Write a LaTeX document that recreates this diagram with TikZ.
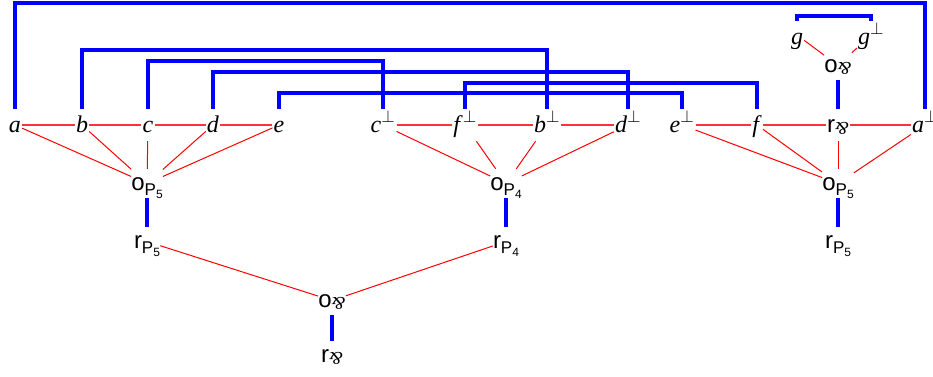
\documentclass[tikz,border=0pt]{standalone}
\usepackage{fontspec}
\setmainfont{Liberation Serif}
\setsansfont{Liberation Sans}
\usepackage{graphicx}
\usepackage{tikz}

\newcommand{\subP}[1]{\raisebox{-5pt}{\fontsize{17}{17}\selectfont P\raisebox{-3pt}{\fontsize{12}{12}\selectfont #1}}}
\newcommand{\subpar}{\raisebox{-2.5pt}{\fontsize{18}{18}\selectfont\rmfamily\itshape\rotatebox[origin=c]{180}{\&}}}
\newcommand{\dual}[1]{\textit{#1}$^{\perp}$}

\begin{document}
\begin{tikzpicture}[x=1pt,y=-1pt,
    lit/.style={anchor=base,inner xsep=1pt,inner ysep=0pt,text height=23pt,text depth=9pt,font=\fontsize{24}{28}\selectfont},
    conn/.style={anchor=base,inner sep=0pt,text height=21pt,text depth=8pt,font=\fontsize{24}{28}\selectfont\sffamily},
    axiom/.style={draw=blue,line width=3.5pt},
    tree/.style={draw=red,line width=1pt},
    row/.style={tree,line width=1.5pt,draw=red!80}]
	        \useasboundingbox (0,0) rectangle (933,376);
	        % top row of literals
	        \node[lit] (a) at (15,132) {\textit{a}};
	        \node[lit] (b) at (82,132) {\textit{b}};
	        \node[lit] (c) at (148,132) {\textit{c}};
	        \node[lit] (d) at (213,132) {\textit{d}};
	        \node[lit] (e) at (279,132) {\textit{e}};
	        \node[lit] (cp) at (383,132) {\dual{c}};
	        \node[lit] (fp) at (465,132) {\dual{f}};
	        \node[lit] (bp) at (547,132) {\dual{b}};
	        \node[lit] (dp) at (628,132) {\dual{d}};
	        \node[lit] (ep) at (682,132) {\dual{e}};
	        \node[lit] (f) at (757,132) {\textit{f}};
	        \node[lit,font=\fontsize{24}{28}\selectfont\sffamily] (rpar) at (838,132) {r\subpar};
	        \node[lit] (ap) at (925,132) {\dual{a}};
	        \node[lit,text depth=5pt] (g) at (797,44) {\textit{g}};
	        \node[lit,text depth=5pt] (gp) at (871,44) {\dual{g}};
	        % links
	        \node[conn] (opar) at (838,72) {o\subpar};
	        \node[conn] (oPa) at (147,190) {o\subP{5}};
	        \node[conn] (oPb) at (506,190) {o\subP{4}};
	        \node[conn] (oPc) at (838,190) {o\subP{5}};
	        \node[conn] (rPa) at (147,248) {r\subP{5}};
	        \node[conn] (rPb) at (506,248) {r\subP{4}};
	        \node[conn] (rPc) at (838,248) {r\subP{5}};
	        \node[conn] (oroot) at (332,307) {o\subpar};
	        \node[conn] (rroot) at (332,362) {r\subpar};
	        % red edges
	        \foreach \u/\v in {a/b,b/c,c/d,d/e,cp/fp,fp/bp,bp/dp,ep/f,f/rpar,rpar/ap}
	            \draw[row] (\u) -- (\v);
	        \foreach \n in {a,b,c,d,e} \draw[tree] (\n) -- (oPa);
	        \foreach \n in {cp,fp,bp,dp} \draw[tree] (\n) -- (oPb);
	        \foreach \n in {ep,f,rpar,ap} \draw[tree] (\n) -- (oPc);
	        \draw[tree] (g) -- (opar);
	        \draw[tree] (gp) -- (opar);
	        \draw[tree] (rPa) -- (oroot);
	        \draw[tree] (rPb) -- (oroot);
	        % blue edges
	        \draw[axiom] (a.north) -- (a.north |- 0,3) -| (ap.north);
	        \draw[axiom] (b.north) -- (b.north |- 0,50) -| (bp.north);
	        \draw[axiom] (c.north) -- (c.north |- 0,61) -| (cp.north);
	        \draw[axiom] (d.north) -- (d.north |- 0,72) -| (dp.north);
	        \draw[axiom] (fp.north) -- (fp.north |- 0,83) -| (f.north);
	        \draw[axiom] (e.north) -- (e.north |- 0,93) -| (ep.north);
	        \draw[axiom] (g.north) -- (g.north |- 0,16) -| (gp.north);
	        \draw[axiom] (opar) -- (rpar);
	        \draw[axiom] (oPa) -- (rPa);
	        \draw[axiom] (oPb) -- (rPb);
	        \draw[axiom] (oPc) -- (rPc);
	        \draw[axiom] (oroot) -- (rroot);
	    \end{tikzpicture}
\end{document}
